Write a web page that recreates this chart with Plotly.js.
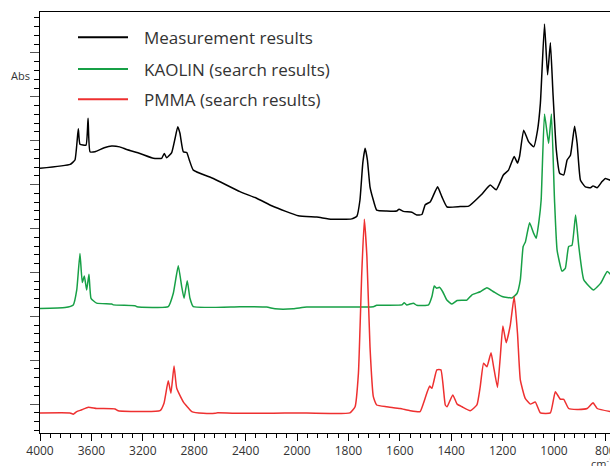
<!DOCTYPE html>
<html>
<head>
<meta charset="utf-8">
<script src="https://cdn.plot.ly/plotly-3.0.1.min.js"></script>
<style>
html,body{margin:0;padding:0;overflow:hidden;background:#fff;}
#chart{width:640px;height:466px;}
</style>
</head>
<body>
<div id="chart"></div>
<script>
// Wavenumbers (cm-1) and absorbance (offset, arbitrary units)
const measWn = [4000,3765,3728,3702,3689,3642,3626,3611,3572,3500,3442,3380,3325,3222,3118,3053,3033,3014,2975,2949,2928,2911,2885,2858,2838,2807,2651,2444,2314,2184,1995,1923,1865,1787,1767,1755,1744,1735,1726,1716,1705,1690,1651,1612,1603,1586,1553,1534,1514,1501,1481,1453,1436,1416,1365,1332,1283,1248,1225,1197,1177,1155,1142,1134,1118,1099,1079,1064,1053,1037,1025,1014,1004,991,978,962,949,936,920,910,897,878,858,848,832,813,800,781];
const measAbs = [0.637,0.646,0.656,0.727,0.692,0.690,0.751,0.675,0.675,0.684,0.688,0.686,0.680,0.671,0.660,0.660,0.671,0.661,0.673,0.705,0.732,0.717,0.675,0.673,0.656,0.633,0.614,0.584,0.569,0.550,0.529,0.526,0.521,0.522,0.528,0.565,0.649,0.683,0.656,0.595,0.569,0.542,0.540,0.540,0.544,0.539,0.537,0.531,0.532,0.554,0.561,0.595,0.572,0.549,0.550,0.551,0.577,0.599,0.588,0.622,0.633,0.664,0.649,0.664,0.724,0.698,0.686,0.724,0.785,0.966,0.850,0.923,0.808,0.679,0.626,0.622,0.656,0.667,0.733,0.694,0.610,0.595,0.593,0.597,0.593,0.607,0.614,0.610];

const kaolWn = [4000,3805,3741,3714,3689,3671,3655,3637,3619,3603,3559,3442,3430,3261,3247,3002,2963,2924,2897,2879,2854,2833,2807,2444,2236,2171,2029,1962,1703,1690,1592,1583,1573,1547,1534,1488,1475,1466,1456,1446,1433,1417,1397,1377,1339,1319,1287,1261,1235,1202,1163,1144,1131,1120,1111,1095,1079,1069,1058,1050,1037,1021,1010,998,988,969,956,943,930,916,904,884,846,819,793,781];
const kaolAbs = [0.318,0.320,0.326,0.360,0.443,0.377,0.392,0.360,0.396,0.341,0.330,0.328,0.326,0.324,0.322,0.322,0.352,0.415,0.367,0.341,0.381,0.341,0.322,0.322,0.321,0.317,0.317,0.321,0.322,0.325,0.326,0.331,0.326,0.330,0.325,0.326,0.345,0.369,0.364,0.366,0.356,0.337,0.328,0.336,0.337,0.349,0.356,0.365,0.356,0.345,0.342,0.352,0.383,0.459,0.470,0.513,0.489,0.478,0.519,0.565,0.761,0.694,0.761,0.565,0.451,0.403,0.409,0.459,0.462,0.531,0.462,0.383,0.360,0.375,0.402,0.396];

const pmmaWn = [4000,3767,3741,3714,3675,3624,3559,3416,3391,3066,3035,3002,2981,2957,2936,2885,2854,2819,2729,2638,2625,2444,2184,2008,1794,1774,1761,1748,1738,1728,1716,1703,1690,1651,1599,1560,1521,1508,1495,1484,1475,1456,1440,1423,1416,1394,1377,1358,1326,1300,1287,1274,1261,1245,1235,1220,1209,1199,1186,1170,1155,1142,1131,1112,1092,1073,1053,1014,995,975,962,943,910,871,848,832,781];
const pmmaAbs = [0.080,0.080,0.077,0.083,0.087,0.093,0.090,0.089,0.085,0.085,0.102,0.153,0.125,0.187,0.136,0.105,0.094,0.083,0.079,0.079,0.080,0.079,0.079,0.080,0.080,0.094,0.170,0.398,0.521,0.436,0.231,0.117,0.098,0.094,0.090,0.085,0.083,0.102,0.125,0.141,0.136,0.178,0.178,0.098,0.094,0.121,0.100,0.094,0.085,0.098,0.140,0.193,0.185,0.217,0.185,0.138,0.208,0.278,0.240,0.280,0.345,0.261,0.155,0.113,0.100,0.105,0.080,0.080,0.128,0.111,0.111,0.090,0.088,0.090,0.103,0.090,0.083];

const seriesNames = ["Measurement results","KAOLIN (search results)","PMMA (search results)"];
const seriesColors = ["#000000","#17a046","#ee3030"];

const majorTicks = [4000,3600,3200,2800,2400,2000,1800,1600,1400,1200,1000,800];

// Split axis: scale below 2000 cm-1 is expanded 2x (as in the original IR plot)
function tx(w){ return w >= 2000 ? w : 2*w - 2000; }

const minorVals = [];
for (let w = 4000; w >= 2000; w -= 80) minorVals.push(tx(w));
for (let w = 2000; w >= 640; w -= 40) minorVals.push(tx(w));

const W = 640, H = 466, L = 40, T = 12, B = 33;
const plotW = W - L, plotH = H - T - B;
function px(x){ return (x - L)/plotW; }
function py(y){ return (H - B - y)/plotH; }

const allWn = [measWn, kaolWn, pmmaWn];
const allAbs = [measAbs, kaolAbs, pmmaAbs];
const traces = allWn.map((wn, i) => ({
  type: "scatter", mode: "lines",
  x: wn.map(tx), y: allAbs[i],
  name: seriesNames[i],
  line: {color: seriesColors[i], width: 1.5, shape: "spline", smoothing: 0.4},
  showlegend: false, hoverinfo: "skip"
}));

const legendY = [37.3, 69, 99.3];
const shapes = legendY.map((y, i) => ({
  type: "line", xref: "paper", yref: "paper",
  x0: px(78), x1: px(128), y0: py(y), y1: py(y),
  line: {color: seriesColors[i], width: 2}
}));
const annotations = legendY.map((y, i) => ({
  xref: "paper", yref: "paper", x: px(142), y: py(y),
  xanchor: "left", yanchor: "middle", showarrow: false,
  text: seriesNames[i],
  font: {family: "Open Sans", size: 17, color: "#333"}
}));
annotations.push({
  xref: "paper", yref: "paper", x: px(9), y: py(76),
  xanchor: "left", yanchor: "middle", showarrow: false,
  text: "Abs", font: {family: "Open Sans", size: 11, color: "#333"}
});
annotations.push({
  xref: "paper", yref: "paper", x: px(589), y: py(463),
  xanchor: "left", yanchor: "middle", showarrow: false,
  text: "cm<sup>-1</sup>", font: {family: "Open Sans", size: 11, color: "#333"}
});

const xRight = 4000 - plotW / ((297 - 40) / 2000);

const layout = {
  width: W, height: H,
  margin: {l: L, r: 0, t: T, b: B, pad: 0},
  paper_bgcolor: "#fff", plot_bgcolor: "#fff",
  showlegend: false,
  xaxis: {
    range: [4000, xRight], showgrid: false, zeroline: false,
    showline: true, linecolor: "#000", linewidth: 1, mirror: true,
    ticks: "outside", ticklen: 7, tickcolor: "#000", tickwidth: 1,
    tickmode: "array", tickvals: majorTicks.map(tx), ticktext: majorTicks.map(String),
    tickfont: {family: "Open Sans", size: 12, color: "#333"},
    minor: {tickmode: "array", tickvals: minorVals, ticks: "outside", ticklen: 4, tickcolor: "#000", showgrid: false}
  },
  yaxis: {
    range: [0.0342, 0.9932], showgrid: false, zeroline: false,
    showline: true, linecolor: "#000", linewidth: 1,
    ticks: "outside", ticklen: 9, tickcolor: "#555", tickwidth: 1,
    tick0: 0.1, dtick: 0.1, showticklabels: false,
    minor: {dtick: 0.02, tick0: 0, ticks: "outside", ticklen: 5, tickcolor: "#000", showgrid: false}
  },
  shapes: shapes,
  annotations: annotations
};

Plotly.newPlot("chart", traces, layout, {staticPlot: true, displayModeBar: false});
</script>
</body>
</html>
